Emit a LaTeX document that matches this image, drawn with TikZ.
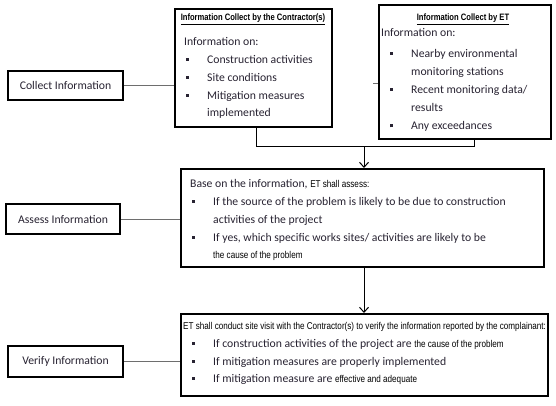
\documentclass[tikz,border=0pt]{standalone}
\usepackage{fontspec}
\setmainfont{Carlito}
\newfontfamily\narrowfont[FakeStretch=0.82]{Liberation Sans}
\usetikzlibrary{arrows.meta}
\definecolor{txt}{RGB}{40,35,50}
\definecolor{conn}{RGB}{110,110,110}
\newcommand{\bul}{\makebox[21pt][l]{\rule[2.6pt]{3pt}{3pt}}}
\newcommand{\nar}{\narrowfont\fontsize{9.9}{12}\selectfont\color{black}}
\begin{document}
\begin{tikzpicture}[x=1pt,y=-1pt,
  box/.style={draw=black,line width=2pt,inner sep=0pt,anchor=north west},
  lbl/.style={draw=black,line width=2pt,inner sep=0pt,anchor=north west,
    font=\fontsize{11.7}{14}\selectfont,text=txt},
  t/.style={anchor=base west,inner sep=0pt,font=\fontsize{11.7}{14}\selectfont,text=txt},
  hd/.style={anchor=base,inner sep=0pt,font=\narrowfont\bfseries\fontsize{9.3}{11}\selectfont,text=black},
  nt/.style={anchor=base west,inner sep=0pt,font=\nar},
  thin/.style={draw=conn,line width=0.8pt},
  link/.style={draw=black,line width=1pt},
  arr/.style={draw=black,line width=1pt,-{Straight Barb[length=5pt,width=9pt]}}]
\fill[white] (0,0) rectangle (556,406);
\path[use as bounding box] (0,0) rectangle (556,406);

% left labels
\node[lbl,minimum width=115,minimum height=29] (collect) at (7,70) {Collect Information};
\node[lbl,minimum width=114,minimum height=30] (assessl) at (5,203) {Assess Information};
\node[lbl,minimum width=115,minimum height=31] (verifyl) at (7,345) {Verify Information};

% main boxes
\node[box,minimum width=157,minimum height=118] (contr) at (174,8) {};
\node[box,minimum width=172,minimum height=134] (et) at (378,4) {};
\node[box,minimum width=363,minimum height=98] (assess) at (180,168) {};
\node[box,minimum width=367,minimum height=82] (verify) at (180,313) {};

% contractor box text
\node[hd] (ch) at (253,21) {\underline{Information Collect by the Contractor(s)}};
\node[t] (c0) at (184,45.5) {Information on:};
\node[t] (c1) at (186,63.5) {\bul Construction activities};
\node[t] (c2) at (186,81.5) {\bul Site conditions};
\node[t] (c3) at (186,99.5) {\bul Mitigation measures};
\node[t] (c4) at (207,116.5) {implemented};

% ET box text
\node[hd] (eh) at (463,21) {\underline{Information Collect by ET}};
\node[t] (e0) at (381,37) {Information on:};
\node[t] (e1) at (390,57.5) {\bul Nearby environmental};
\node[t] (e2) at (411,76) {monitoring stations};
\node[t] (e3) at (390,93.5) {\bul Recent monitoring data/};
\node[t] (e4) at (411,111.5) {results};
\node[t] (e5) at (390,130) {\bul Any exceedances};

% assess box text
\node[t] (a0) at (190,187.5) {Base on the information, {\nar ET shall assess:}};
\node[t] (a1) at (192,205.5) {\bul If the source of the problem is likely to be due to construction};
\node[t] (a2) at (213,223.5) {activities of the project};
\node[t] (a3) at (192,241.5) {\bul If yes, which specific works sites/ activities are likely to be};
\node[nt] (a4) at (213,258.5) {the cause of the problem};

% verify box text
\node[nt] (v0) at (183,329) {ET shall conduct site visit with the Contractor(s) to verify the information reported by the complainant:};
\node[t] (v1) at (192,347.5) {\bul If construction activities of the project are {\nar the cause of the problem}};
\node[t] (v2) at (192,365.5) {\bul If mitigation measures are properly implemented};
\node[t] (v3) at (192,382.5) {\bul If mitigation measure are {\nar effective and adequate}};

% connectors from labels
\draw[thin] (collect.east) -- (contr.west |- collect.east);
\draw[thin] (assessl.east) -- (assess.west |- assessl.east);
\draw[thin] (verifyl.east) -- (verify.west |- verifyl.east);
\coordinate (tick) at (373,83);
\draw[thin] (tick) -- (et.west |- tick);

% join and arrows
\coordinate (j1) at (256,147);
\coordinate (j2) at (474,147);
\coordinate (jm) at (364,147);
\draw[link] (contr.south -| j1) -- (j1) -- (j2) -- (et.south -| j2);
\draw[arr] (jm) -- (assess.north -| jm);
\draw[arr] (assess.south -| jm) -- (verify.north -| jm);
\end{tikzpicture}
\end{document}
